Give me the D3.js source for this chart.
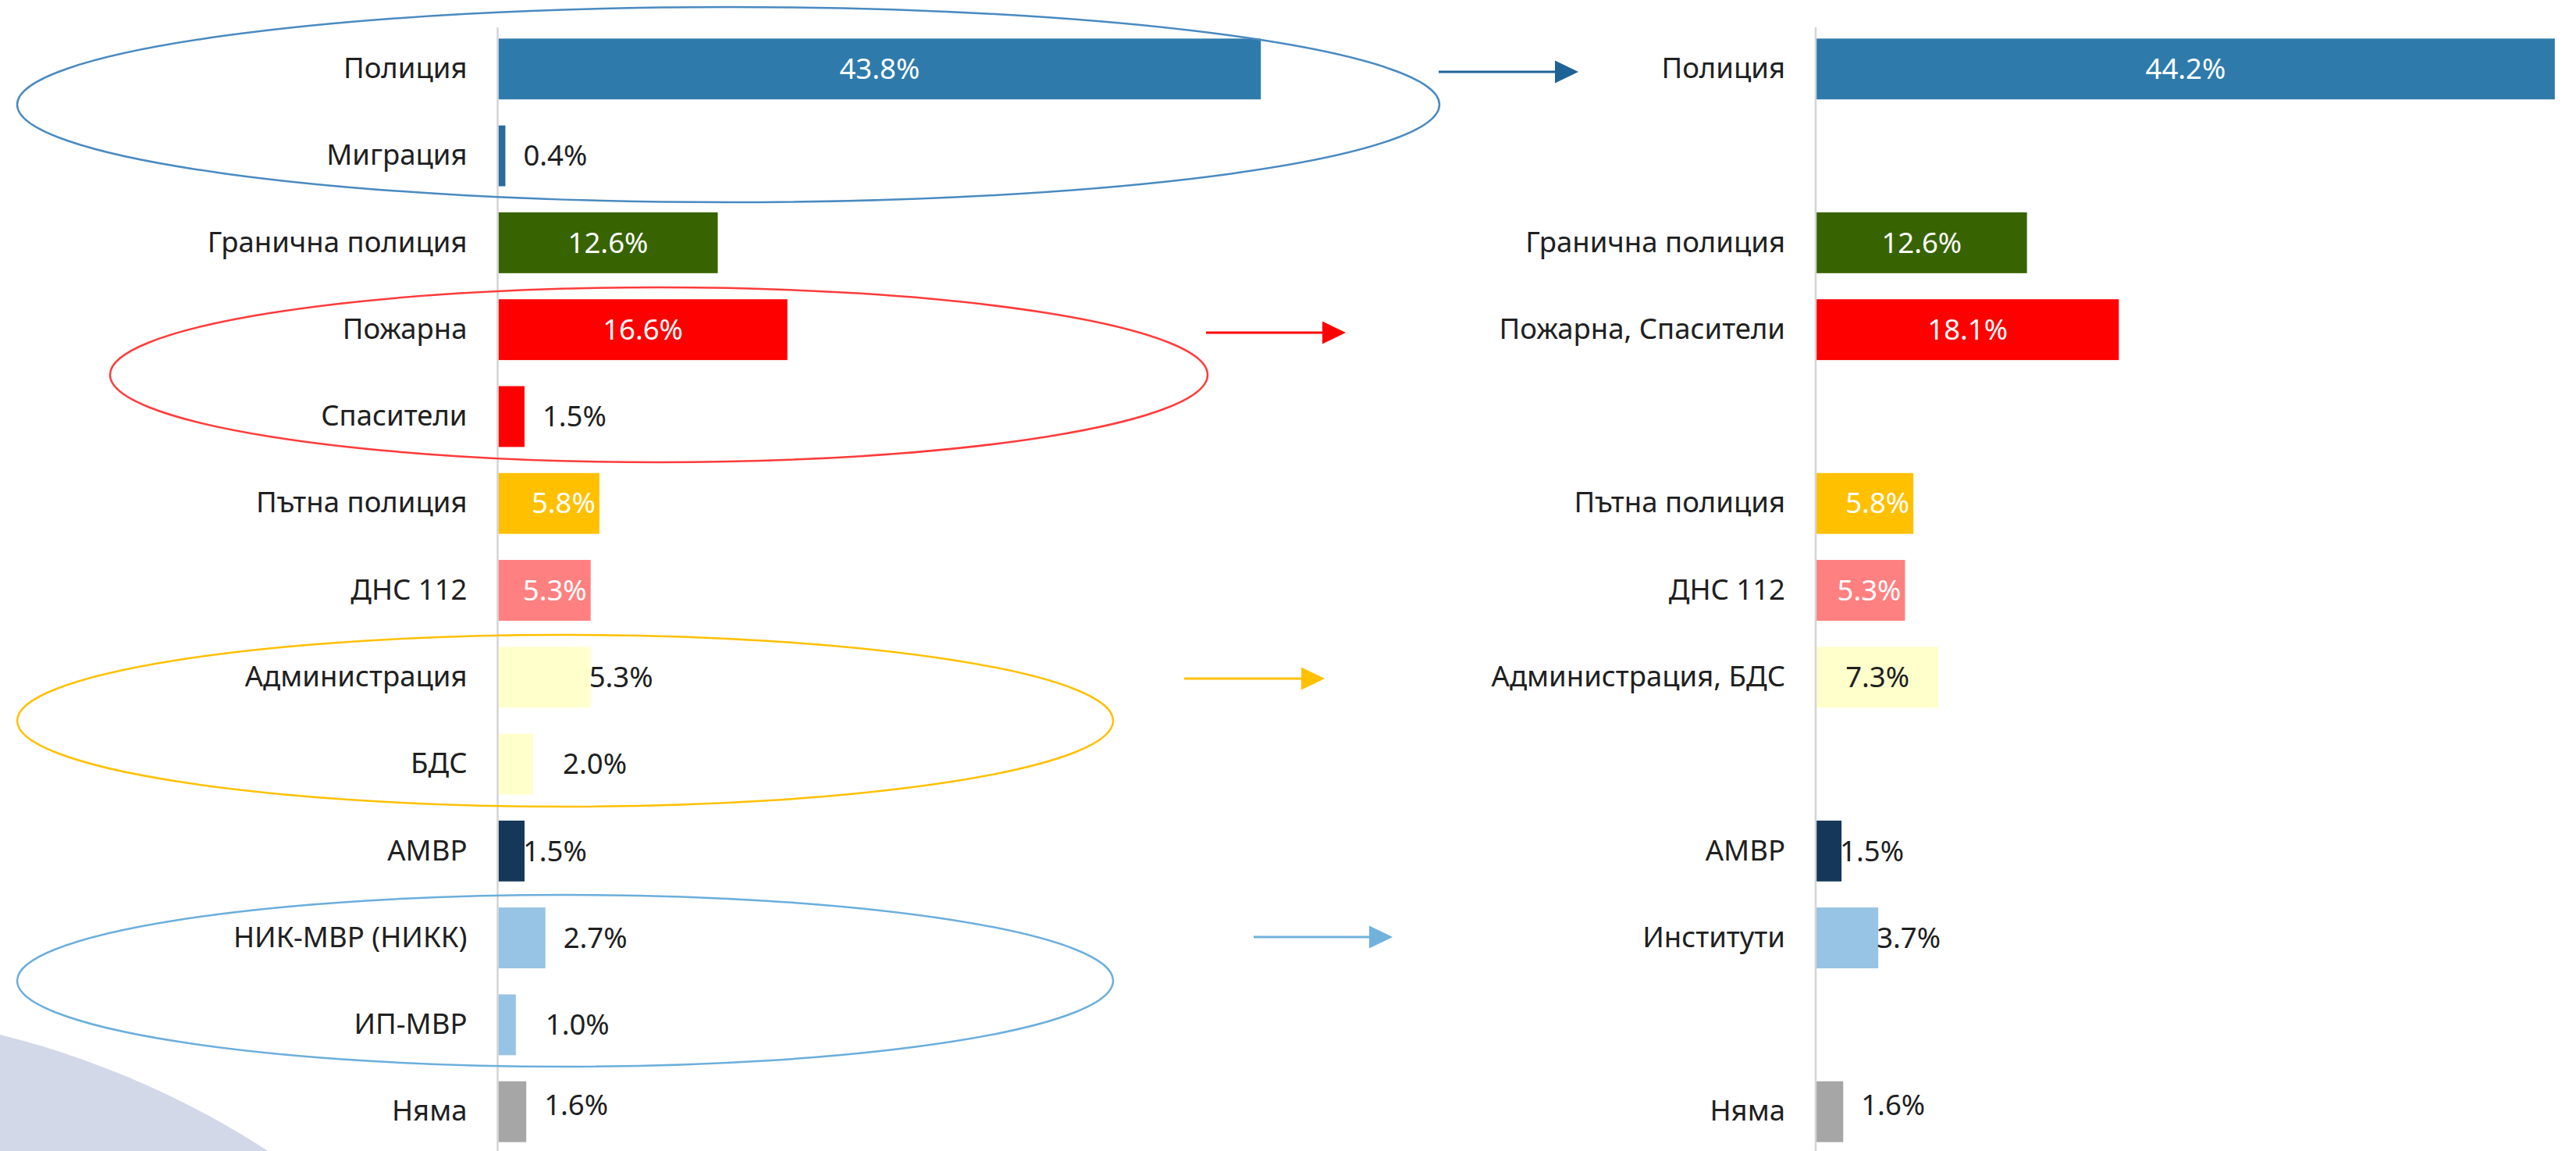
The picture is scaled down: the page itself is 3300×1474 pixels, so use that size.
<!DOCTYPE html>
<html>
<head>
<meta charset="utf-8">
<script src="https://cdn.jsdelivr.net/npm/d3@7"></script>
<style>
  html, body { margin: 0; padding: 0; background: #ffffff; }
  svg { display: block; }
</style>
</head>
<body>
<svg id="chart" width="3300" height="1474"></svg>
<script>
// ---------- DATA ----------
const leftCategories = ["Полиция", "Миграция", "Гранична полиция", "Пожарна", "Спасители",
  "Пътна полиция", "ДНС 112", "Администрация", "БДС", "АМВР", "НИК-МВР (НИКК)", "ИП-МВР", "Няма"];
const leftValues = [43.8, 0.4, 12.6, 16.6, 1.5, 5.8, 5.3, 5.3, 2.0, 1.5, 2.7, 1.0, 1.6];

const rightCategories = ["Полиция", "", "Гранична полиция", "Пожарна, Спасители", "",
  "Пътна полиция", "ДНС 112", "Администрация, БДС", "", "АМВР", "Институти", "", "Няма"];
const rightValues = [44.2, null, 12.6, 18.1, null, 5.8, 5.3, 7.3, null, 1.5, 3.7, null, 1.6];

// ---------- STYLE ----------
const rowColors = ["#2E7BAB", "#2A6A9C", "#376400", "#FF0000", "#FF0000", "#FFC000", "#FF8080",
  "#FFFFCC", "#FFFFCC", "#15375A", "#97C3E4", "#97C3E4", "#A6A6A6"];
// label placement modes: in = centred white, end = inside end white, mid = centred dark,
// out = outside dark with gap, edge = outside dark touching the bar
const leftLabelModes = ["in", "out", "in", "in", "out", "end", "end", "edge", "out2", "edge", "out", "out2", "out"];
const rightLabelModes = ["in", null, "in", "in", null, "end", "end", "mid", null, "edge", "edge", null, "out"];

const FONT = "'Noto Sans', 'Open Sans', sans-serif";
const FS = 36.5;
const TEXT_DARK = "#202020";

const svg = d3.select("#chart");

// background decoration
svg.append("circle").attr("cx", -276).attr("cy", 2431).attr("r", 1140).attr("fill", "#D3D8E8");

const y = d3.scaleBand().domain(d3.range(leftCategories.length))
  .range([16, 1496]).paddingInner(0.3).paddingOuter(0.3);

function drawPanel(cats, vals, modes, axisX, xMax, pxPerUnit) {
  const x = d3.scaleLinear().domain([0, xMax]).range([axisX + 1, axisX + 1 + xMax * pxPerUnit]);
  const g = svg.append("g");

  const rows = vals.map((v, i) => ({ i, v, cat: cats[i], mode: modes[i] })).filter(d => d.v != null);

  g.selectAll("rect.bar").data(rows).join("rect")
    .attr("class", "bar")
    .attr("x", x(0))
    .attr("y", d => y(d.i))
    .attr("width", d => x(d.v) - x(0))
    .attr("height", y.bandwidth())
    .attr("fill", d => rowColors[d.i]);

  // axis line
  g.append("line").attr("x1", axisX).attr("x2", axisX).attr("y1", 35).attr("y2", 1474)
    .attr("stroke", "#D4D4D4").attr("stroke-width", 2.5);

  // category axis labels
  const axis = d3.axisLeft(y).tickSize(0).tickPadding(39).tickFormat(i => cats[i]);
  const ag = g.append("g").attr("transform", `translate(${axisX},0)`).call(axis);
  ag.select(".domain").remove();
  ag.selectAll("text").attr("font-family", FONT).attr("font-size", FS).attr("fill", TEXT_DARK);

  // value labels
  g.selectAll("text.val").data(rows).join("text")
    .attr("class", "val")
    .attr("font-family", FONT).attr("font-size", FS)
    .attr("dy", "0.35em")
    .attr("y", d => y(d.i) + y.bandwidth() / 2 - (d.cat === "Няма" ? 8 : 0))
    .attr("x", d => {
      const e = x(d.v), s = x(0);
      switch (d.mode) {
        case "in": case "mid": return (s + e) / 2;
        case "end": return e - 5;
        case "edge": return e - 2;
        case "out2": return e + 38;
        default: return e + 23;
      }
    })
    .attr("text-anchor", d => (d.mode === "in" || d.mode === "mid") ? "middle" : (d.mode === "end" ? "end" : "start"))
    .attr("fill", d => (d.mode === "in" || d.mode === "end") ? "#FFFFFF" : TEXT_DARK)
    .text(d => d.v.toFixed(1) + "%");
}

drawPanel(leftCategories, leftValues, leftLabelModes, 637.5, 44, 22.3);
drawPanel(rightCategories, rightValues, rightLabelModes, 2326, 44.2, 21.4);

// ---------- ANNOTATIONS (ellipses + arrows) ----------
const ellipses = [
  { cx: 933, cy: 134, rx: 911, ry: 125, color: "#4A8AC0" },
  { cx: 844, cy: 480, rx: 703, ry: 112, color: "#FF3B3B" },
  { cx: 724, cy: 923, rx: 702, ry: 110, color: "#FFC000" },
  { cx: 724, cy: 1256, rx: 702, ry: 110, color: "#6BAEDC" }
];
svg.selectAll("ellipse.ann").data(ellipses).join("ellipse")
  .attr("class", "ann")
  .attr("cx", d => d.cx).attr("cy", d => d.cy).attr("rx", d => d.rx).attr("ry", d => d.ry)
  .attr("fill", "none").attr("stroke", d => d.color).attr("stroke-width", 2.5);

const arrows = [
  { x1: 1843, x2: 2022, y: 92, color: "#1F6396" },
  { x1: 1545, x2: 1724, y: 426, color: "#FF0000" },
  { x1: 1517, x2: 1697, y: 869, color: "#FFC000" },
  { x1: 1606, x2: 1784, y: 1200, color: "#70B2DC" }
];
const ag2 = svg.selectAll("g.arrow").data(arrows).join("g").attr("class", "arrow");
ag2.append("line")
  .attr("x1", d => d.x1).attr("x2", d => d.x2 - 28).attr("y1", d => d.y).attr("y2", d => d.y)
  .attr("stroke", d => d.color).attr("stroke-width", 3);
ag2.append("path")
  .attr("d", d => `M${d.x2 - 30},${d.y - 14.5} L${d.x2},${d.y} L${d.x2 - 30},${d.y + 14.5} Z`)
  .attr("fill", d => d.color);
</script>
</body>
</html>
